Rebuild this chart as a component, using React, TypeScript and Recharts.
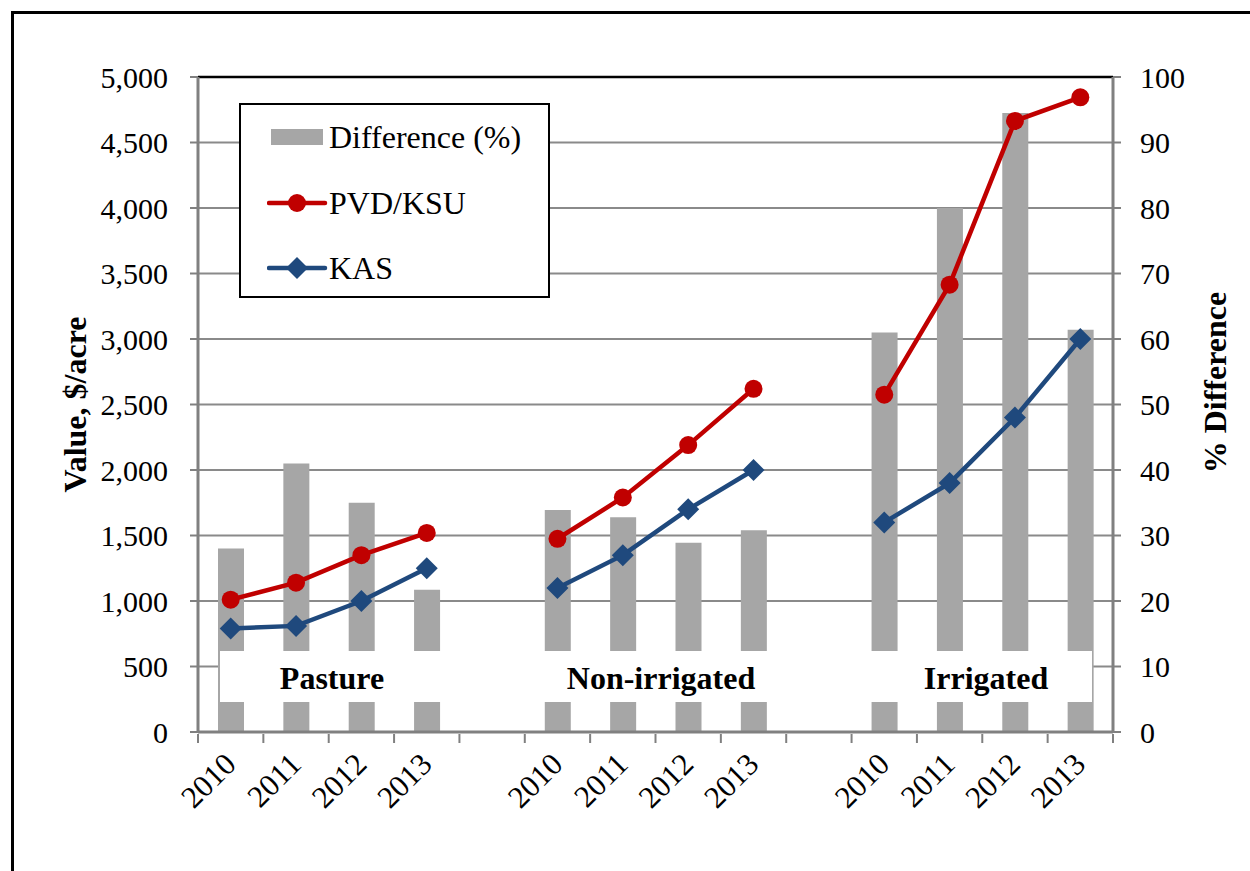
import { ComposedChart, Bar, Line, XAxis, YAxis, CartesianGrid, Legend, ReferenceLine } from 'recharts';

const groups = ['Pasture', 'Non-irrigated', 'Irrigated'];
const years = ['2010', '2011', '2012', '2013'];
// $/acre
const pvdKsu = [
  [1010, 1140, 1350, 1520],
  [1475, 1790, 2190, 2620],
  [2575, 3415, 4665, 4845],
];
const kas = [
  [790, 810, 1000, 1250],
  [1100, 1350, 1700, 2000],
  [1600, 1900, 2400, 3000],
];
// % difference
const diffPct = [
  [28, 41, 35, 21.7],
  [33.9, 32.8, 28.9, 30.8],
  [61, 80, 94.5, 61.4],
];
const leftTicks = [0, 500, 1000, 1500, 2000, 2500, 3000, 3500, 4000, 4500, 5000];
const rightTicks = [0, 10, 20, 30, 40, 50, 60, 70, 80, 90, 100];

type Row = { key: string; year: string; pvd?: number; kas?: number; diff?: number };
const data: Row[] = [];
groups.forEach((g, gi) => {
  if (gi > 0) data.push({ key: 'gap' + gi, year: '' });
  years.forEach((y, yi) => {
    data.push({ key: g + y, year: y, pvd: pvdKsu[gi][yi], kas: kas[gi][yi], diff: diffPct[gi][yi] });
  });
});

const FONT = 'Liberation Serif, serif';
const AXIS_GRAY = '#808080';
const RED = '#C00000';
const BLUE = '#1F497D';
const BAR_GRAY = '#A6A6A6';
const BAND = 915 / data.length;

function YearTick(props: any) {
  const { x, y, index } = props;
  const row = data[index];
  const left = x - BAND / 2;
  return (
    <g>
      <line x1={left} x2={left} y1={y} y2={y + 9} stroke={AXIS_GRAY} strokeWidth={2} />
      {index === data.length - 1 && (
        <line x1={x + BAND / 2} x2={x + BAND / 2} y1={y} y2={y + 9} stroke={AXIS_GRAY} strokeWidth={2} />
      )}
      {row && row.year && (
        <text
          x={x + 7}
          y={y + 32}
          textAnchor="end"
          transform={`rotate(-45, ${x + 7}, ${y + 32})`}
          style={{ fontFamily: FONT, fontSize: 31 }}
          fill="#000"
        >
          {row.year}
        </text>
      )}
    </g>
  );
}

function Diamond(props: any) {
  const { cx, cy, index } = props;
  if (cx == null || cy == null) return <g key={'d' + index} />;
  const s = 11;
  return (
    <path
      key={'d' + index}
      d={`M${cx},${cy - s} L${cx + s},${cy} L${cx},${cy + s} L${cx - s},${cy} Z`}
      fill={BLUE}
    />
  );
}

function SideTitle(props: any) {
  const { viewBox, text, dx } = props;
  const cx = viewBox.x + dx;
  const cy = viewBox.y + viewBox.height / 2 + props.dy;
  return (
    <text
      x={cx}
      y={cy}
      textAnchor="middle"
      dominantBaseline="central"
      transform={`rotate(-90, ${cx}, ${cy})`}
      style={{ fontFamily: FONT, fontSize: 32, fontWeight: 'bold' }}
      fill="#000"
    >
      {text}
    </text>
  );
}

function LegendBox() {
  const rowStyle: React.CSSProperties = {
    position: 'absolute',
    left: 26,
    display: 'flex',
    alignItems: 'center',
    height: 40,
    fontFamily: FONT,
    fontSize: 32,
    color: '#000',
  };
  return (
    <div
      style={{
        width: 311,
        height: 195,
        border: '2px solid #000',
        background: '#fff',
        boxSizing: 'border-box',
        position: 'relative',
      }}
    >
      <div style={{ ...rowStyle, top: 12 }}>
        <svg width={62} height={40}>
          <rect x={4} y={12} width={52} height={16} fill={BAR_GRAY} />
        </svg>
        <span>Difference (%)</span>
      </div>
      <div style={{ ...rowStyle, top: 78 }}>
        <svg width={62} height={40}>
          <line x1={2} x2={58} y1={20} y2={20} stroke={RED} strokeWidth={4.5} strokeLinecap="round" />
          <circle cx={30} cy={20} r={9} fill={RED} />
        </svg>
        <span>PVD/KSU</span>
      </div>
      <div style={{ ...rowStyle, top: 143 }}>
        <svg width={62} height={40}>
          <line x1={2} x2={58} y1={20} y2={20} stroke={BLUE} strokeWidth={4.5} strokeLinecap="round" />
          <path d="M30,9 L41,20 L30,31 L19,20 Z" fill={BLUE} />
        </svg>
        <span>KAS</span>
      </div>
    </div>
  );
}

const groupLabelX = [332, 661, 986];

export default function App() {
  const tickStyle = { fill: '#000', fontSize: 30, fontFamily: FONT };
  return (
    <div
      style={{
        position: 'absolute',
        left: 0,
        top: 0,
        width: 1250,
        height: 871,
        overflow: 'hidden',
        background: '#fff',
        fontFamily: FONT,
      }}
    >
      <div
        style={{
          position: 'absolute',
          left: 11,
          top: 11,
          width: 1400,
          height: 1000,
          borderTop: '3px solid #000',
          borderLeft: '3px solid #000',
        }}
      />
      <div style={{ position: 'absolute', left: 0, top: 0 }}>
        <ComposedChart width={1250} height={871} data={data} margin={{ top: 77, right: 37, bottom: 39, left: 78 }}>
          <CartesianGrid yAxisId="left" vertical={false} stroke="#8a8a8a" strokeWidth={2} />
          <XAxis
            dataKey="key"
            interval={0}
            height={100}
            tick={<YearTick />}
            tickLine={false}
            tickSize={0}
            axisLine={{ stroke: AXIS_GRAY, strokeWidth: 3 }}
          />
          <YAxis
            yAxisId="left"
            domain={[0, 5000]}
            ticks={leftTicks}
            width={120}
            tickSize={8}
            tickMargin={22}
            tick={tickStyle}
            tickLine={{ stroke: AXIS_GRAY, strokeWidth: 2 }}
            axisLine={{ stroke: AXIS_GRAY, strokeWidth: 3 }}
            tickFormatter={(v: number) => v.toLocaleString('en-US')}
            label={<SideTitle text="Value, $/acre" dx={-3} dy={0} />}
          />
          <YAxis
            yAxisId="right"
            orientation="right"
            domain={[0, 100]}
            ticks={rightTicks}
            width={100}
            tickSize={8}
            tickMargin={19}
            tick={tickStyle}
            tickLine={{ stroke: AXIS_GRAY, strokeWidth: 2 }}
            axisLine={{ stroke: AXIS_GRAY, strokeWidth: 3 }}
            label={<SideTitle text="% Difference" dx={102} dy={-22} />}
          />
          <ReferenceLine yAxisId="left" y={5000} stroke="#000" strokeWidth={2.5} />
          <Bar yAxisId="right" dataKey="diff" fill={BAR_GRAY} barSize={26} isAnimationActive={false} />
          <Line
            yAxisId="left"
            dataKey="pvd"
            stroke={RED}
            strokeWidth={4.5}
            dot={{ r: 9, fill: RED, stroke: RED, strokeWidth: 0 }}
            activeDot={false}
            isAnimationActive={false}
          />
          <Line
            yAxisId="left"
            dataKey="kas"
            stroke={BLUE}
            strokeWidth={4.5}
            dot={<Diamond />}
            activeDot={false}
            isAnimationActive={false}
          />
          <Legend
            layout="horizontal"
            verticalAlign="middle"
            align="center"
            content={<LegendBox />}
            wrapperStyle={{ left: 239, top: 103, width: 311, height: 195, bottom: 'auto', margin: 0 }}
          />
        </ComposedChart>
      </div>
      <div
        style={{
          position: 'absolute',
          left: 220,
          top: 651,
          width: 872,
          height: 51,
          background: '#fff',
        }}
      />
      {groups.map((g, i) => (
        <div
          key={g}
          style={{
            position: 'absolute',
            left: groupLabelX[i],
            top: 678,
            transform: 'translate(-50%, -50%)',
            fontFamily: FONT,
            fontSize: 32,
            fontWeight: 'bold',
            whiteSpace: 'nowrap',
            color: '#000',
          }}
        >
          {g}
        </div>
      ))}
    </div>
  );
}
